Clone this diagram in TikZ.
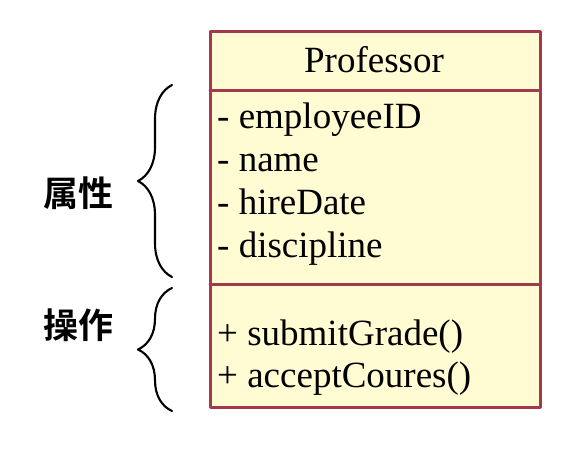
\documentclass[tikz,border=0pt]{standalone}
\usepackage{fontspec}
\setmainfont{Liberation Serif}
\newfontfamily\cjk{Noto Sans CJK SC}[BoldFont={Noto Sans CJK SC Bold}]
\usetikzlibrary{decorations.pathreplacing}
\usetikzlibrary{positioning}
\definecolor{classfill}{HTML}{FFFBD2}
\definecolor{classline}{HTML}{A23A4C}
\tikzstyle{every node}=[font=\fontsize{37}{40}\selectfont,inner sep=0pt]
\tikzstyle{every path}=[line cap=round,line join=round]
\tikzset{
  member/.style={anchor=base west},
  sidelabel/.style={font=\fontsize{35}{38}\selectfont\cjk\bfseries},
  bracepath/.style={decorate,decoration={brace,amplitude=34pt},line width=2.1pt},
  classbox/.style={draw=classline,fill=classfill,line width=3pt}
}

\begin{document}
\begin{tikzpicture}[x=1pt,y=-1pt]
\useasboundingbox[fill=white] (0,0) rectangle (565,452);

% class box
\draw [classbox] (210,32) rectangle (540,407);
\draw [classline,line width=3pt] (210,90) -- (540,90);
\draw [classline,line width=3pt] (210,284) -- (540,284);

\node [anchor=base] (name) at (374,73) {Professor};

% attributes
\node [member] (a1) at (217,128) {- employeeID};
\node [member] (a2) at (217,171) {- name};
\node [member] (a3) at (217,214) {- hireDate};
\node [member] (a4) at (217,257) {- discipline};

% operations
\node [member] (o1) at (217,345) {+ submitGrade()};
\node [member] (o2) at (217,387) {+ acceptCoures()};

% braces
\coordinate (attrtop) at (172,85);
\coordinate (attrbot) at (172,277);
\coordinate (optop) at (172,288);
\coordinate (opbot) at (172,411);
\draw [bracepath] (attrbot) -- (attrtop);
\draw [bracepath] (opbot) -- (optop);

\node [sidelabel] (attr) at (78,193) {属性};
\node [sidelabel] (ops) at (78,325) {操作};

\end{tikzpicture}
\end{document}
